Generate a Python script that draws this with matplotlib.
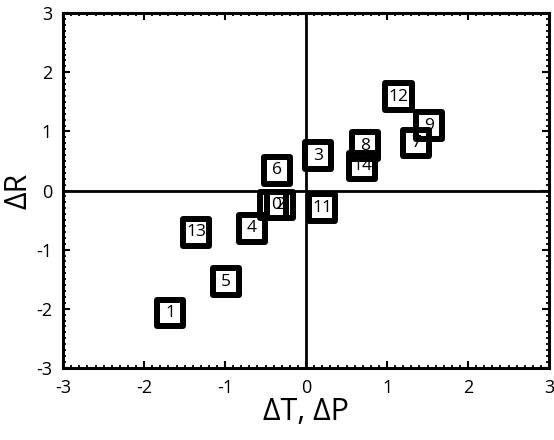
import numpy as np
import matplotlib.pyplot as plt
from matplotlib.ticker import MultipleLocator

# point labels and positions (dT/dP on x, dR on y)
labels = ["1", "2", "3", "4", "5", "6", "7", "8", "9", "10", "11", "12", "13", "14"]
dx = [-1.68, -0.32, 0.15, -0.67, -0.99, -0.36, 1.36, 0.73, 1.52, -0.41, 0.20, 1.14, -1.36, 0.69]
dy = [-2.07, -0.25, 0.59, -0.64, -1.54, 0.34, 0.80, 0.76, 1.10, -0.24, -0.29, 1.59, -0.71, 0.42]

plt.rcParams['font.family'] = ['Open Sans', 'DejaVu Sans']
plt.rcParams['axes.unicode_minus'] = False

fig = plt.figure(figsize=(5.54, 4.40), dpi=100)
ax = fig.add_axes([0.114, 0.164, 0.877, 0.806])

ax.axhline(0, color='black', lw=2, zorder=1)
ax.axvline(0, color='black', lw=2, zorder=1)

for lab, x, y in zip(labels, dx, dy):
    ax.text(x, y, lab, ha='center', va='center', fontsize=12.5, zorder=3)
ax.scatter(dx, dy, s=19 ** 2, marker='s', facecolors='none', edgecolors='black',
           linewidths=4.3, zorder=4)

ax.set_xlim(-3, 3)
ax.set_ylim(-3, 3)
ax.xaxis.set_major_locator(MultipleLocator(1))
ax.yaxis.set_major_locator(MultipleLocator(1))
ax.xaxis.set_minor_locator(MultipleLocator(0.1))
ax.yaxis.set_minor_locator(MultipleLocator(0.1))
ax.tick_params(which='major', direction='in', length=5, width=1.5, top=True, right=True,
               labelsize=13, pad=8)
ax.tick_params(which='minor', direction='in', length=2.5, width=1.3, top=True, right=True)
for s in ax.spines.values():
    s.set_linewidth(2.2)

ax.set_xlabel("ΔT, ΔP", fontsize=22, labelpad=0)
ax.set_ylabel("ΔR", fontsize=22, labelpad=2)

fig.savefig("out.png", dpi=100)
